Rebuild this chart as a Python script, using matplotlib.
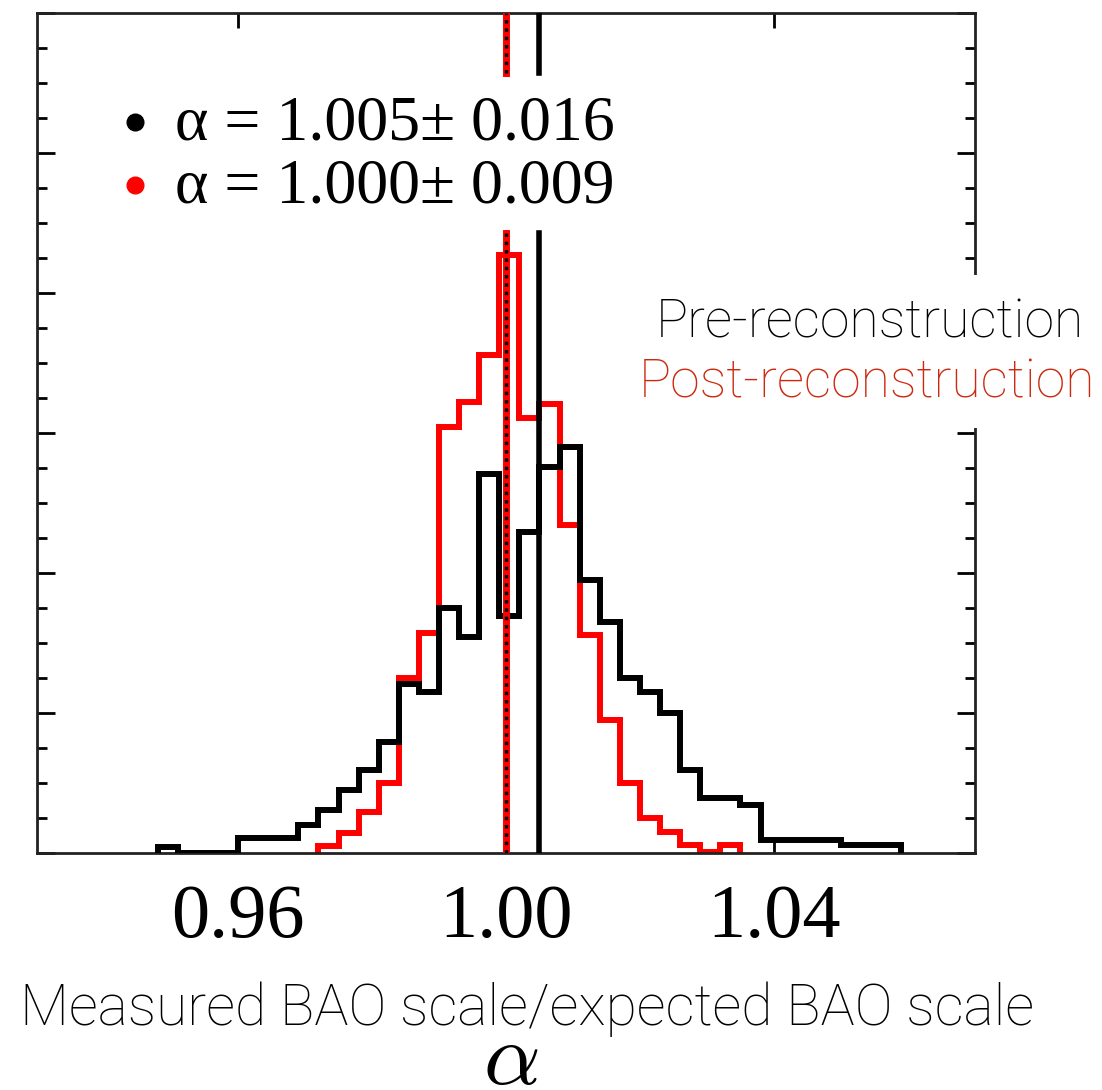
import numpy as np
import matplotlib
matplotlib.use('Agg')
import matplotlib.pyplot as plt
from matplotlib.ticker import MultipleLocator
from matplotlib.patches import Rectangle

plt.rcParams['mathtext.fontset'] = 'cm'

# histogram binning (alpha)
bin_width = 0.003
pre_first_edge = 0.948
post_first_edge = 0.972

# pre-reconstruction histogram (arbitrary units, 1 = one major y tick)
pre_counts = [0.04, 0, 0, 0, 0.11, 0.11, 0.11, 0.20, 0.31, 0.45, 0.59, 0.79,
              1.21, 1.15, 1.75, 1.54, 2.71, 1.69, 2.29, 2.76, 2.90, 1.95,
              1.65, 1.25, 1.15, 1.00, 0.59, 0.39, 0.39, 0.34, 0.09, 0.09,
              0.09, 0.09, 0.06, 0.06, 0.06]

# post-reconstruction histogram
post_counts = [0.05, 0.14, 0.29, 0.50, 1.25, 1.57, 3.04, 3.22, 3.56, 4.27,
               3.11, 3.21, 2.34, 1.56, 0.95, 0.50, 0.25, 0.15, 0.06, 0.01,
               0.06]

pre_alpha = 1.005
post_alpha = 1.000
legend_labels = [u'\u03b1 = 1.005\u00b1 0.016', u'\u03b1 = 1.000\u00b1 0.009']
xtick_vals = [0.96, 1.00, 1.04]
xtick_labels = ['0.96', '1.00', '1.04']

pre_edges = pre_first_edge + bin_width * np.arange(len(pre_counts) + 1)
post_edges = post_first_edge + bin_width * np.arange(len(post_counts) + 1)

fig = plt.figure(figsize=(11.02, 10.90), dpi=100)
ax = fig.add_axes([37 / 1102, 237 / 1090, 938 / 1102, 840 / 1090])

ax.stairs(post_counts, post_edges, baseline=0, color='red', lw=4.3, zorder=2)
ax.stairs(pre_counts, pre_edges, baseline=0, color='black', lw=4.3, zorder=3)

# median lines, broken behind the legend
for lo, hi in [(0, 0.738), (0.929, 1)]:
    ax.axvline(post_alpha, lo, hi, color='red', lw=5, zorder=4)
    ax.axvline(post_alpha, lo, hi, color='black', lw=2.5,
               linestyle=(0, (1, 1.4)), zorder=5)
    ax.axvline(pre_alpha, lo, hi, color='black', lw=4, zorder=4)

ax.set_xlim(0.93, 1.07)
ax.set_ylim(0, 6)
ax.set_xticks(xtick_vals)
ax.set_xticklabels(xtick_labels, fontfamily='Liberation Serif', fontsize=55)
ax.yaxis.set_major_locator(MultipleLocator(1))
ax.yaxis.set_minor_locator(MultipleLocator(0.25))
ax.tick_params(axis='x', which='major', direction='in', top=True,
               length=11, width=2, pad=22)
ax.tick_params(axis='y', which='major', direction='in', left=True, right=True,
               length=13, width=2, labelleft=False)
ax.tick_params(axis='y', which='minor', direction='in', left=True, right=True,
               length=7, width=2)
for sp in ax.spines.values():
    sp.set_linewidth(2)
    sp.set_color('#222222')

# legend drawn by hand
for i, (lab, col) in enumerate(zip(legend_labels, ['black', 'red'])):
    ax.plot([0.1045], [0.870 - 0.075 * i], 'o', color=col, ms=12,
            transform=ax.transAxes, clip_on=False, zorder=6)
    ax.text(0.147, 0.849 - 0.075 * i, lab, transform=ax.transAxes,
            fontsize=46, fontfamily='Liberation Serif', va='baseline')

# annotation box on the right
fig.add_artist(Rectangle((636 / 1102, (1090 - 428) / 1090), 466 / 1102,
                         153 / 1090, transform=fig.transFigure,
                         facecolor='white', edgecolor='none'))
fig.text(870 / 1102, (1090 - 337) / 1090, 'Pre-reconstruction', ha='center',
         va='baseline', fontsize=38.5, color='black', fontfamily='Roboto',
         fontweight='light')
fig.text(867 / 1102, (1090 - 398) / 1090, 'Post-reconstruction', ha='center',
         va='baseline', fontsize=38.5, color='#cc2a10', fontfamily='Roboto',
         fontweight='light')

fig.text(527 / 1102, (1090 - 1025) / 1090,
         'Measured BAO scale/expected BAO scale', ha='center', va='baseline',
         fontsize=41, fontfamily='Roboto', fontweight='light')
fig.text(511 / 1102, 6 / 1090, r'$\alpha$', ha='center', va='baseline',
         fontsize=64)

fig.savefig('out.png', dpi=100)
